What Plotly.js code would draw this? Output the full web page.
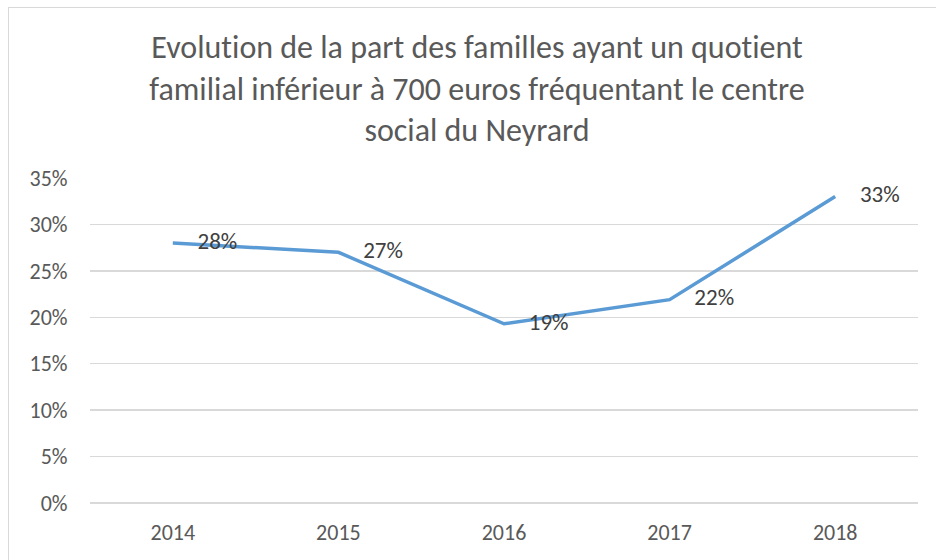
<!DOCTYPE html>
<html>
<head>
<meta charset="utf-8">
<script src="https://cdn.plot.ly/plotly-3.0.1.min.js"></script>
<style>
  html, body { margin: 0; padding: 0; background: #ffffff; }
  #frame { position: absolute; left: 8px; top: 7px; width: 1000px; height: 700px;
           border-left: 1.5px solid #d9d9d9; border-top: 1.5px solid #d9d9d9; }
  #chart { position: absolute; left: 0; top: 0; width: 936px; height: 560px; }
  svg text { font-variant-ligatures: none; font-feature-settings: "liga" 0; }
</style>
</head>
<body>
<div id="frame"></div>
<div id="chart"></div>
<script>
const years = ['2014', '2015', '2016', '2017', '2018'];
const shares = [0.280, 0.270, 0.193, 0.219, 0.330];
const labels = ['28%', '27%', '19%', '22%', '33%'];
const chartTitle = 'Evolution de la part des familles ayant un quotient<br>familial inférieur à 700 euros fréquentant le centre<br>social du Neyrard';

const FONT = 'Carlito, Lato, "Open Sans", sans-serif';

const trace = {
  type: 'scatter',
  mode: 'lines+markers+text',
  x: years,
  y: shares,
  text: labels,
  textposition: 'middle right',
  textfont: { family: FONT, size: 23, color: '#404040' },
  line: { color: '#5B9BD5', width: 3.5 },
  marker: { size: 38, color: 'rgba(0,0,0,0)' },
  hoverinfo: 'skip',
  cliponaxis: false
};

const layout = {
  width: 936,
  height: 560,
  paper_bgcolor: 'rgba(0,0,0,0)',
  plot_bgcolor: 'rgba(0,0,0,0)',
  margin: { l: 90, r: 18, t: 178, b: 57 },
  showlegend: false,
  font: { family: FONT, color: '#595959' },
  title: {
    text: chartTitle,
    font: { family: FONT, size: 32, color: '#595959' },
    x: 477 / 936,
    xanchor: 'center',
    xref: 'container',
    yref: 'container',
    y: 1 - 58 / 560,
    yanchor: 'middle'
  },
  xaxis: {
    type: 'category',
    range: [-0.5, 4.5],
    showgrid: false,
    showline: false,
    zeroline: false,
    ticks: 'outside',
    ticklen: 10,
    tickcolor: 'rgba(0,0,0,0)',
    tickfont: { family: FONT, size: 22, color: '#595959' }
  },
  yaxis: {
    range: [0, 0.35],
    dtick: 0.05,
    tickformat: '.0%',
    showgrid: true,
    gridcolor: '#d9d9d9',
    gridwidth: 1.3,
    zeroline: true,
    zerolinecolor: '#d9d9d9',
    zerolinewidth: 1.3,
    showline: false,
    ticks: 'outside',
    ticklen: 17,
    tickcolor: 'rgba(0,0,0,0)',
    tickfont: { family: FONT, size: 22, color: '#595959' }
  }
};

Plotly.newPlot('chart', [trace], layout, { displayModeBar: false, staticPlot: true });
</script>
</body>
</html>
